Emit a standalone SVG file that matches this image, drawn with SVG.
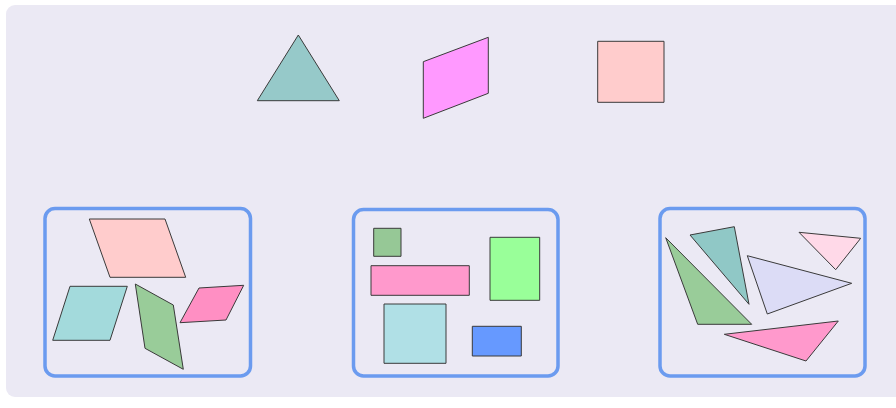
<svg xmlns="http://www.w3.org/2000/svg" width="896" height="408" viewBox="0 0 896 408">
<style>
.s{stroke:#3a3a3a;stroke-width:1;stroke-linejoin:round}
.box{fill:none;stroke:#6b9bef;stroke-width:3.5}
</style>
<rect x="0" y="0" width="896" height="408" fill="#ffffff"/>
<rect x="6" y="5" width="900" height="392" rx="9" fill="#ebe9f4"/>
<g id="top-triangle"><polygon class="s" points="298.3,35 339.3,100.7 257.3,100.7" fill="#96c9c9"/></g>
<g id="top-parallelogram"><polygon class="s" points="423.3,61.7 488.3,37.3 488.3,93.3 423.3,118.3" fill="#ff99ff"/></g>
<g id="top-square"><rect class="s" x="597.7" y="41.3" width="66.3" height="61" fill="#ffcccc"/></g>
<g id="box-parallelograms">
<rect class="box" x="45" y="208.5" width="205.5" height="167.5" rx="10"/>
<polygon class="s" points="89.3,219 165,219 185.7,277.3 110,277.3" fill="#ffcccc"/>
<polygon class="s" points="70,286.3 127.3,286.3 110,340.3 52.7,340.3" fill="#a3dadc"/>
<polygon class="s" points="135.3,284 173.3,305 183.3,369.3 145,348.3" fill="#99cc99"/>
<polygon class="s" points="199,288 243.7,285.3 226,320 180,322.7" fill="#ff8fc3"/>
</g>
<g id="box-rectangles">
<rect class="box" x="353.5" y="209.5" width="204.5" height="166.5" rx="10"/>
<rect class="s" x="373.7" y="228.3" width="27.3" height="28" fill="#96c896"/>
<rect class="s" x="371" y="265.7" width="98.3" height="29.6" fill="#ff99cc"/>
<rect class="s" x="490" y="237.3" width="49.7" height="63" fill="#99ff99"/>
<rect class="s" x="384" y="304" width="62" height="59.3" fill="#b0e0e6"/>
<rect class="s" x="472.3" y="326.3" width="49" height="29.7" fill="#6699ff"/>
</g>
<g id="box-triangles">
<rect class="box" x="660" y="208.5" width="205" height="167.5" rx="10"/>
<polygon class="s" points="690,235 734.3,226.7 749,304.3" fill="#90c8c6"/>
<polygon class="s" points="665.7,237.7 751.7,324.3 697.7,324.3" fill="#99cc99"/>
<polygon class="s" points="747.3,255.7 851.7,283.3 767.3,314" fill="#dcdcf6"/>
<polygon class="s" points="799,232.3 860.7,238.3 835.7,269.7" fill="#ffd9e8"/>
<polygon class="s" points="724.3,334.3 838.3,321 806,361" fill="#ff99cc"/>
</g>
</svg>
